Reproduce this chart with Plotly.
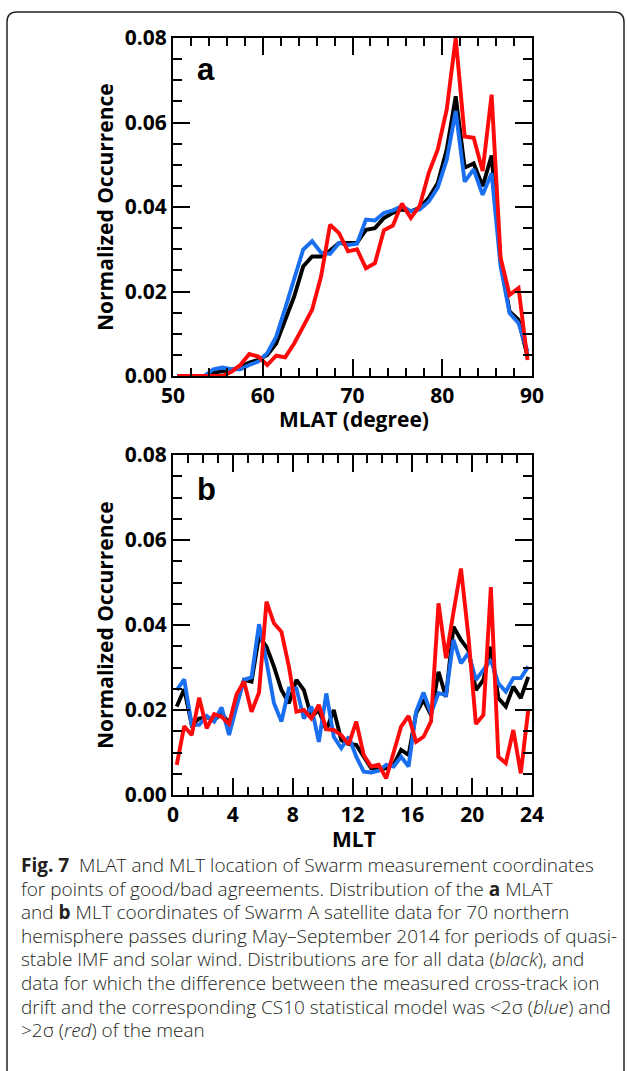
import numpy as np
import plotly.graph_objects as go

W, H = 627, 1071

# ---------------- data ----------------
mlat_bins = np.arange(50.5, 90.0, 1.0)
mlat_all = [0, 0, 0, 0, 0.0008, 0.001, 0.0014, 0.0022, 0.0032, 0.0038,
            0.005, 0.0077, 0.0133, 0.0188, 0.0259, 0.0283, 0.0283, 0.0297, 0.0315, 0.0315,
            0.0315, 0.0346, 0.035, 0.0374, 0.0386, 0.0394, 0.039, 0.0398, 0.0422, 0.0457,
            0.0536, 0.0662, 0.0493, 0.0503, 0.0449, 0.0522, 0.027, 0.0153, 0.0133, 0.0046]
mlat_good = [0, 0, 0, 0, 0.0016, 0.002, 0.0016, 0.0016, 0.0026, 0.0034,
             0.0054, 0.0093, 0.016, 0.0228, 0.0299, 0.0319, 0.0292, 0.0289, 0.0315, 0.031,
             0.0313, 0.037, 0.0368, 0.0386, 0.0392, 0.0402, 0.039, 0.0394, 0.0413, 0.0446,
             0.0512, 0.0627, 0.046, 0.0489, 0.0429, 0.048, 0.026, 0.0149, 0.0125, 0.0058]
mlat_bad = [0, 0, 0, 0, 0, 0, 0.001, 0.0026, 0.0052, 0.0046,
            0.0026, 0.0048, 0.0044, 0.0077, 0.0117, 0.0157, 0.0236, 0.0358, 0.0338, 0.0295,
            0.03, 0.0255, 0.0267, 0.0345, 0.0356, 0.0408, 0.0374, 0.0403, 0.0481, 0.0536,
            0.0631, 0.08, 0.0567, 0.0564, 0.0485, 0.0666, 0.028, 0.0192, 0.0208, 0.0038]

mlt_bins = np.arange(0.25, 24.0, 0.5)
mlt_all = [0.0208, 0.0249, 0.0165, 0.018, 0.0183, 0.0176, 0.0192, 0.0169, 0.0224, 0.0271,
           0.0267, 0.0373, 0.0349, 0.0302, 0.0247, 0.0216, 0.0271, 0.0247, 0.0184, 0.02,
           0.0153, 0.02, 0.0129, 0.012, 0.0118, 0.009, 0.0063, 0.0059, 0.0063, 0.0071,
           0.0106, 0.0094, 0.0192, 0.0224, 0.0188, 0.029, 0.0231, 0.0396, 0.0365, 0.0341,
           0.0247, 0.0271, 0.0349, 0.0228, 0.0208, 0.0255, 0.0228, 0.0278]
mlt_good = [0.0247, 0.0272, 0.0165, 0.0165, 0.0186, 0.0173, 0.0206, 0.0141, 0.0208, 0.0271,
            0.0277, 0.0402, 0.0314, 0.0216, 0.0173, 0.0251, 0.0251, 0.018, 0.0208, 0.0125,
            0.0239, 0.0137, 0.011, 0.0137, 0.009, 0.0055, 0.0053, 0.0057, 0.0071, 0.0067,
            0.009, 0.0067, 0.0196, 0.0241, 0.0192, 0.024, 0.0235, 0.0365, 0.031, 0.0334,
            0.0271, 0.0294, 0.0318, 0.0263, 0.0243, 0.0275, 0.0275, 0.0302]
mlt_bad = [0.0071, 0.0162, 0.0141, 0.0229, 0.0157, 0.019, 0.0184, 0.0167, 0.0237, 0.0267,
           0.0196, 0.0241, 0.0455, 0.0404, 0.0384, 0.0302, 0.0196, 0.02, 0.018, 0.0212,
           0.0155, 0.0153, 0.0141, 0.0119, 0.0173, 0.0094, 0.0067, 0.0071, 0.0039, 0.0098,
           0.0161, 0.0186, 0.0125, 0.0137, 0.0173, 0.0451, 0.0322, 0.043, 0.0533, 0.0373,
           0.0167, 0.0188, 0.0489, 0.009, 0.0075, 0.0153, 0.0051, 0.02]

y_ticks = [0.00, 0.02, 0.04, 0.06, 0.08]
mlat_ticks = [50, 60, 70, 80, 90]
mlt_ticks = [0, 4, 8, 12, 16, 20, 24]

caption_lines = [
    "<b>Fig. 7</b>  MLAT and MLT location of Swarm measurement coordinates",
    "for points of good/bad agreements. Distribution of the <b>a</b> MLAT",
    "and <b>b</b> MLT coordinates of Swarm A satellite data for 70 northern",
    "hemisphere passes during May\u2013September 2014 for periods of quasi-",
    "stable IMF and solar wind. Distributions are for all data (<i>black</i>), and",
    "data for which the difference between the measured cross-track ion",
    "drift and the corresponding CS10 statistical model was &lt;2\u03c3 (<i>blue</i>) and",
    "&gt;2\u03c3 (<i>red</i>) of the mean",
]

# ---------------- layout helpers ----------------
def px_x(x):
    return x / W

def px_y(y):
    return 1 - y / H

BLACK = "#000000"
BLUE = "#1a6ff0"
RED = "#ff0a0a"
TICKFONT = dict(family="Open Sans", size=21, color="black", weight="bold")

fig = go.Figure()

series = [("a", mlat_bins, mlat_all, mlat_good, mlat_bad, "x", "y"),
          ("b", mlt_bins, mlt_all, mlt_good, mlt_bad, "x2", "y2")]
for name, xs, a, g, b, xa, ya in series:
    for vals, col in ((a, BLACK), (g, BLUE), (b, RED)):
        fig.add_trace(go.Scatter(x=xs, y=vals, mode="lines", xaxis=xa, yaxis=ya,
                                 line=dict(color=col, width=3.9), showlegend=False,
                                 hoverinfo="skip"))

x0, x1 = px_x(173), px_x(532)
common_axis = dict(showline=True, linewidth=2, linecolor="black", mirror="ticks",
                   ticks="inside", ticklen=17, tickwidth=2, tickcolor="black",
                   showgrid=False, zeroline=False, tickfont=TICKFONT,
                   fixedrange=True)

fig.update_layout(
    width=W, height=H, margin=dict(l=0, r=0, t=0, b=0, autoexpand=False),
    paper_bgcolor="white", plot_bgcolor="white",
    xaxis=dict(domain=[x0, x1], anchor="y", range=[50, 90], tickvals=mlat_ticks,
               minor=dict(dtick=2, tick0=50, ticks="inside", ticklen=8, tickwidth=2,
                          tickcolor="black", showgrid=False),
               **common_axis),
    yaxis=dict(domain=[px_y(376), px_y(38)], anchor="x", range=[0, 0.08],
               tickvals=y_ticks, tickformat=".2f",
               minor=dict(dtick=0.005, tick0=0, ticks="inside", ticklen=9, tickwidth=2,
                          tickcolor="black", showgrid=False),
               **common_axis),
    xaxis2=dict(domain=[x0, x1], anchor="y2", range=[0, 24], tickvals=mlt_ticks,
                minor=dict(dtick=1, tick0=0, ticks="inside", ticklen=8, tickwidth=2,
                           tickcolor="black", showgrid=False),
                **common_axis),
    yaxis2=dict(domain=[px_y(795), px_y(455)], anchor="x2", range=[0, 0.08],
                tickvals=y_ticks, tickformat=".2f",
                minor=dict(dtick=0.005, tick0=0, ticks="inside", ticklen=9, tickwidth=2,
                           tickcolor="black", showgrid=False),
                **common_axis),
)

TITLEFONT = dict(family="Open Sans", size=21, color="black", weight="bold")
ann = []
for yc in (207, 625):
    ann.append(dict(text="Normalized Occurrence", x=px_x(105), y=px_y(yc), xref="paper",
                    yref="paper", showarrow=False, textangle=-90, font=TITLEFONT,
                    xanchor="center", yanchor="middle"))
ann.append(dict(text="MLAT (degree)", x=px_x(354), y=px_y(419), xref="paper", yref="paper",
                showarrow=False, font=TITLEFONT, xanchor="center", yanchor="middle"))
ann.append(dict(text="MLT", x=px_x(354), y=px_y(839), xref="paper", yref="paper",
                showarrow=False, font=TITLEFONT, xanchor="center", yanchor="middle"))
PANELFONT = dict(family="Liberation Sans", size=31, color="black", weight="bold")
ann.append(dict(text="a", x=px_x(206), y=px_y(70), xref="paper", yref="paper",
                showarrow=False, font=PANELFONT, xanchor="center", yanchor="middle"))
ann.append(dict(text="b", x=px_x(206), y=px_y(490), xref="paper", yref="paper",
                showarrow=False, font=PANELFONT, xanchor="center", yanchor="middle"))
CAPFONT = dict(family="Open Sans", size=19, color="#231f20", weight=300)
for k, line in enumerate(caption_lines):
    ann.append(dict(text=line, x=px_x(19), y=px_y(865 + 23.6 * k), xref="paper",
                    yref="paper", showarrow=False, font=CAPFONT, xanchor="left",
                    yanchor="middle", align="left"))
fig.update_layout(annotations=ann)

# rounded frame (open at the bottom)
fl, fr, ft, fb, r = 7, 624, 12, 1075, 10
path = (f"M {px_x(fl)},{px_y(fb)} L {px_x(fl)},{px_y(ft + r)} "
        f"Q {px_x(fl)},{px_y(ft)} {px_x(fl + r)},{px_y(ft)} "
        f"L {px_x(fr - r)},{px_y(ft)} Q {px_x(fr)},{px_y(ft)} {px_x(fr)},{px_y(ft + r)} "
        f"L {px_x(fr)},{px_y(fb)}")
fig.add_shape(type="path", path=path, xref="paper", yref="paper",
              line=dict(color="#222222", width=1.5))

fig.write_html("out.html", config={"displayModeBar": False},
               post_script="document.body.style.margin='0px';document.body.style.overflow='hidden';")
